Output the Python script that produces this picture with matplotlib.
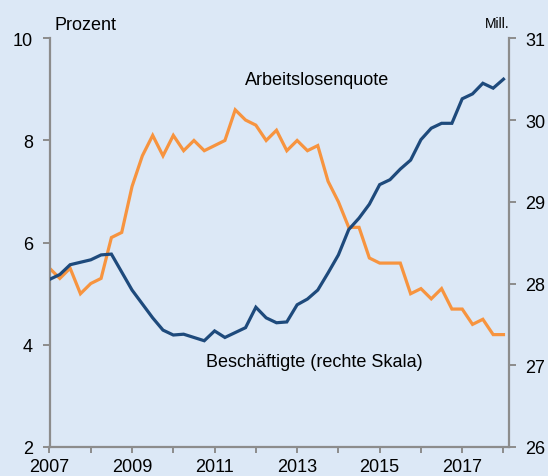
import matplotlib
matplotlib.use("Agg")
import matplotlib.pyplot as plt
import numpy as np

plt.rcParams['font.family'] = ['Liberation Sans', 'DejaVu Sans']

# Quarterly data 2007Q1 .. 2018Q1
start_year = 2007
arbeitslosenquote = [5.5, 5.3, 5.5, 5.0, 5.2, 5.3, 6.1, 6.2, 7.1, 7.7,
                     8.1, 7.7, 8.1, 7.8, 8.0, 7.8, 7.9, 8.0, 8.6, 8.4,
                     8.3, 8.0, 8.2, 7.8, 8.0, 7.8, 7.9, 7.2, 6.8, 6.3,
                     6.3, 5.7, 5.6, 5.6, 5.6, 5.0, 5.1, 4.9, 5.1, 4.7,
                     4.7, 4.4, 4.5, 4.2, 4.2]
beschaeftigte = [28.05, 28.11, 28.23, 28.26, 28.29, 28.35, 28.36, 28.14, 27.92, 27.75,
                 27.58, 27.43, 27.37, 27.38, 27.34, 27.30, 27.42, 27.34, 27.40, 27.46,
                 27.71, 27.58, 27.52, 27.53, 27.74, 27.81, 27.92, 28.13, 28.35, 28.66,
                 28.80, 28.97, 29.21, 29.27, 29.40, 29.51, 29.76, 29.90, 29.96, 29.96,
                 30.26, 30.32, 30.45, 30.39, 30.50]
t = start_year + 0.25 * np.arange(len(arbeitslosenquote))

year_ticks = list(range(2007, 2019))
year_labels = [str(y) if y % 2 == 1 else '' for y in year_ticks]
left_ticks = [2, 4, 6, 8, 10]
right_ticks = [26, 27, 28, 29, 30, 31]

bg = '#DCE8F6'
orange = '#F7943F'
navy = '#1E4A7C'
spine_col = '#8C8C8C'

fig = plt.figure(figsize=(5.48, 4.77), dpi=100, facecolor=bg)
ax = fig.add_axes([49.5/548, 1-448/477, (508.6-49.5)/548, (448-39.3)/477])
ax.set_facecolor(bg)
ax2 = ax.twinx()

ax.plot(t, arbeitslosenquote, color=orange, lw=2.3, solid_joinstyle='miter')
ax2.plot(t, beschaeftigte, color=navy, lw=2.3, solid_joinstyle='miter')

ax.set_xlim(2007, 2018.124)
ax.set_ylim(2, 10)
ax2.set_ylim(26, 31)

ax.set_xticks(year_ticks)
ax.set_xticklabels(year_labels)
ax.set_yticks(left_ticks)
ax2.set_yticks(right_ticks)

for a in (ax, ax2):
    a.spines['top'].set_visible(False)
    for s in ('left', 'right', 'bottom'):
        a.spines[s].set_color(spine_col)
        a.spines[s].set_linewidth(1.6)
ax.spines['right'].set_visible(False)
ax2.spines['left'].set_visible(False)
ax2.spines['bottom'].set_visible(False)

ax.tick_params(axis='x', direction='out', length=4, width=1.4, color=spine_col,
               labelsize=13, pad=4)
ax.tick_params(axis='y', direction='out', length=5, width=1.4, color=spine_col,
               labelsize=13, pad=7)
ax2.tick_params(axis='y', direction='out', length=5, width=1.4, color=spine_col,
                labelsize=13, pad=7)

ax.text(2013.49, 9.2, 'Arbeitslosenquote', fontsize=13, ha='center', va='center')
ax.text(2013.41, 3.67, 'Beschäftigte (rechte Skala)', fontsize=13, ha='center', va='center')

fig.text(54/548, 1-30/477, 'Prozent', fontsize=13, ha='left', va='baseline')
fig.text(497/548, 1-28/477, 'Mill.', fontsize=10, ha='center', va='baseline')

fig.savefig('out.png', dpi=100, facecolor=bg)
